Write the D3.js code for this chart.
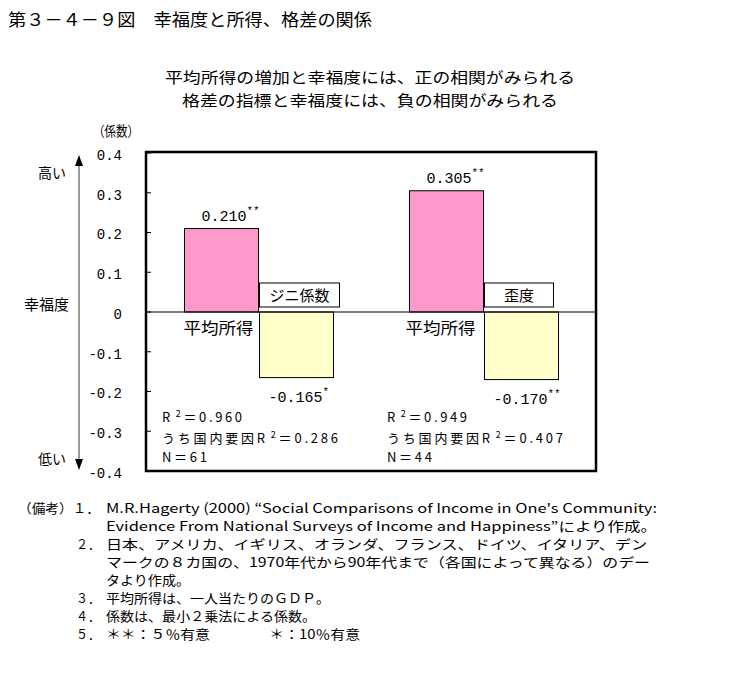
<!DOCTYPE html>
<html><head><meta charset="utf-8">
<script src="https://cdn.jsdelivr.net/npm/d3@7"></script>
<style>
body{margin:0;background:#fff;}
svg{display:block;font-family:"Noto Sans CJK JP","Noto Sans",sans-serif;}
</style></head>
<body><svg id="c" width="734" height="674"></svg>
<script>
// ---- data ----
const groups = ["ジニ係数", "歪度"];
const seriesNames = ["平均所得", "格差指標"];
const incomeValues = [0.210, 0.305];
const inequalityValues = [-0.165, -0.170];
const incomeSig = ["**", "**"];
const inequalitySig = ["*", "**"];
const r2Values = ["0.960", "0.949"];
const domesticR2Values = ["0.286", "0.407"];
const nValues = ["61", "44"];
const yTicks = [0.4, 0.3, 0.2, 0.1, 0, -0.1, -0.2, -0.3, -0.4];
const titleText = "第３－４－９図　幸福度と所得、格差の関係";
const subtitleLines = ["平均所得の増加と幸福度には、正の相関がみられる", "格差の指標と幸福度には、負の相関がみられる"];
const notes = [
  {num:"（備考）１．", text:"M.R.Hagerty (2000) “Social Comparisons of Income in One's Community:"},
  {num:"", text:"Evidence From National Surveys of Income and Happiness”により作成。"},
  {num:"２．", text:"日本、アメリカ、イギリス、オランダ、フランス、ドイツ、イタリア、デン"},
  {num:"", text:"マークの８カ国の、1970年代から90年代まで（各国によって異なる）のデー"},
  {num:"", text:"タより作成。"},
  {num:"３．", text:"平均所得は、一人当たりのＧＤＰ。"},
  {num:"４．", text:"係数は、最小２乗法による係数。"},
  {num:"５．", text:"＊＊：５％有意　　　　＊：10％有意"}
];

const svg = d3.select("#c");
const L = 146, R = 596, T = 153, B = 471;

// title
svg.append("text").attr("x", 8).attr("y", 26).attr("font-size", 17)
  .attr("textLength", 364).attr("lengthAdjust", "spacingAndGlyphs").text(titleText);
// subtitles
const subW = [410, 376];
subtitleLines.forEach((s, i) => {
  svg.append("text").attr("x", 370 - subW[i] / 2).attr("y", 83 + i * 23).attr("font-size", 15)
    .attr("textLength", subW[i]).attr("lengthAdjust", "spacingAndGlyphs").text(s);
});

const y = d3.scaleLinear().domain([-0.4, 0.4]).range([B, T]);
const x0 = d3.scaleBand().domain(groups).range([L, R]).padding(0);
const x1 = d3.scaleBand().domain(seriesNames).range([0, x0.bandwidth()]).paddingInner(0).paddingOuter(0.52);

// y axis
const yAxis = d3.axisLeft(y).tickValues(yTicks).tickSize(0).tickPadding(0)
  .tickFormat(d => d === 0 ? "0" : d.toFixed(1));
const ga = svg.append("g").attr("transform", `translate(122,0)`).call(yAxis);
ga.select(".domain").remove();
ga.selectAll("text").attr("font-family", "Liberation Mono, DejaVu Sans Mono, monospace")
  .attr("font-size", 14).attr("fill", "#000").attr("dy", "0.45em");
// inner ticks
svg.append("g").selectAll("line").data(yTicks).join("line")
  .attr("x1", L).attr("x2", L + 5).attr("y1", d => y(d)).attr("y2", d => y(d))
  .attr("stroke", "#000").attr("stroke-width", 1);

svg.append("text").attr("x", 93).attr("y", 136).attr("font-size", 14).text("（係数）")
  .attr("textLength", 46).attr("lengthAdjust", "spacingAndGlyphs");

// bars
const gg = svg.append("g").selectAll("g").data(groups).join("g")
  .attr("transform", d => `translate(${x0(d)},0)`);
gg.append("rect")
  .attr("x", x1(seriesNames[0])).attr("width", x1.bandwidth())
  .attr("y", (d, i) => y(incomeValues[i])).attr("height", (d, i) => y(0) - y(incomeValues[i]))
  .attr("fill", "#FF99CC").attr("stroke", "#000").attr("stroke-width", 1);
gg.append("rect")
  .attr("x", x1(seriesNames[1]) + 1).attr("width", x1.bandwidth())
  .attr("y", y(0)).attr("height", (d, i) => y(inequalityValues[i]) - y(0))
  .attr("fill", "#FFFFCC").attr("stroke", "#000").attr("stroke-width", 1);

// zero line
svg.append("line").attr("x1", L).attr("x2", R).attr("y1", y(0)).attr("y2", y(0))
  .attr("stroke", "#000").attr("stroke-width", 1);

// frame
svg.append("rect").attr("x", L).attr("y", T - 1).attr("width", R - L).attr("height", B - T + 1)
  .attr("fill", "none").attr("stroke", "#000").attr("stroke-width", 2.5);

const numFont = "Liberation Mono, DejaVu Sans Mono, monospace";
// value labels
gg.append("text").attr("x", x1(seriesNames[0]) + x1.bandwidth() / 2 + 9)
  .attr("y", (d, i) => y(incomeValues[i]) - 8).attr("text-anchor", "middle")
  .attr("font-family", numFont).attr("font-size", 15)
  .each(function(d, i) {
    const t = d3.select(this);
    t.append("tspan").text(incomeValues[i].toFixed(3));
    t.append("tspan").attr("dy", -7).attr("font-size", 11).text(incomeSig[i]);
  });
gg.append("text").attr("x", x1(seriesNames[1]) + 10)
  .attr("y", (d, i) => y(inequalityValues[i]) + 24)
  .attr("font-family", numFont).attr("font-size", 15)
  .each(function(d, i) {
    const t = d3.select(this);
    t.append("tspan").text(inequalityValues[i].toFixed(3));
    t.append("tspan").attr("dy", -7).attr("font-size", 11).text(inequalitySig[i]);
  });

// legend label boxes
gg.append("rect").attr("x", x1(seriesNames[1]) + 1).attr("y", 283)
  .attr("width", (d, i) => i === 0 ? 80 : 69).attr("height", 24)
  .attr("fill", "#fff").attr("stroke", "#000").attr("stroke-width", 1);
gg.append("text").attr("x", (d, i) => x1(seriesNames[1]) + 1 + (i === 0 ? 40 : 34.5))
  .attr("y", 301).attr("text-anchor", "middle").attr("font-size", 15).text(d => d);

// series label under zero
gg.append("text").attr("x", (d, i) => x1(seriesNames[0]) + (i === 0 ? -1 : -4)).attr("y", 334)
  .attr("font-size", 16).attr("textLength", 70).attr("lengthAdjust", "spacingAndGlyphs")
  .text(seriesNames[0]);

// stats
gg.append("text").attr("x", 16).attr("y", 422).attr("font-size", 13)
  .attr("textLength", 80).attr("lengthAdjust", "spacing")
  .each(function(d, i) {
    const t = d3.select(this);
    t.append("tspan").text("R");
    t.append("tspan").attr("dy", -5).attr("font-size", 9).attr("dx", 3).text("2");
    t.append("tspan").attr("dy", 5).text("＝" + r2Values[i]);
  });
gg.append("text").attr("x", 16).attr("y", 443).attr("font-size", 13)
  .attr("textLength", 176).attr("lengthAdjust", "spacing")
  .each(function(d, i) {
    const t = d3.select(this);
    t.append("tspan").text("うち国内要因R");
    t.append("tspan").attr("dy", -5).attr("font-size", 9).attr("dx", 3).text("2");
    t.append("tspan").attr("dy", 5).text("＝" + domesticR2Values[i]);
  });
gg.append("text").attr("x", 16).attr("y", 462).attr("font-size", 13)
  .attr("textLength", 45).attr("lengthAdjust", "spacing")
  .text((d, i) => "N＝" + nValues[i]);

// left arrow axis
svg.append("line").attr("x1", 79).attr("x2", 79).attr("y1", 160).attr("y2", 465)
  .attr("stroke", "#555").attr("stroke-width", 1.2);
svg.append("path").attr("d", "M79,155 L75,166 L83,166 Z").attr("fill", "#000");
svg.append("path").attr("d", "M79,470 L75,459 L83,459 Z").attr("fill", "#000");
svg.append("text").attr("x", 66).attr("y", 178).attr("text-anchor", "end").attr("font-size", 14).text("高い");
svg.append("text").attr("x", 69).attr("y", 310).attr("text-anchor", "end").attr("font-size", 15).text("幸福度");
svg.append("text").attr("x", 66).attr("y", 464).attr("text-anchor", "end").attr("font-size", 14).text("低い");

// notes
const noteY = [513, 531, 549, 567, 585, 603, 621, 639];
const noteW = [551, 551, 541, 544, 84, 224, 210, 254];
notes.forEach((n, i) => {
  if (n.num) {
    const numX = i === 0 ? 18 : 76;
    svg.append("text").attr("x", numX).attr("y", noteY[i]).attr("font-size", 13)
      .attr("textLength", i === 0 ? 82 : 24).attr("lengthAdjust", "spacingAndGlyphs").text(n.num);
  }
  svg.append("text").attr("x", 106).attr("y", noteY[i]).attr("font-size", 13)
    .attr("textLength", noteW[i]).attr("lengthAdjust", "spacingAndGlyphs").text(n.text);
});
</script></body></html>
